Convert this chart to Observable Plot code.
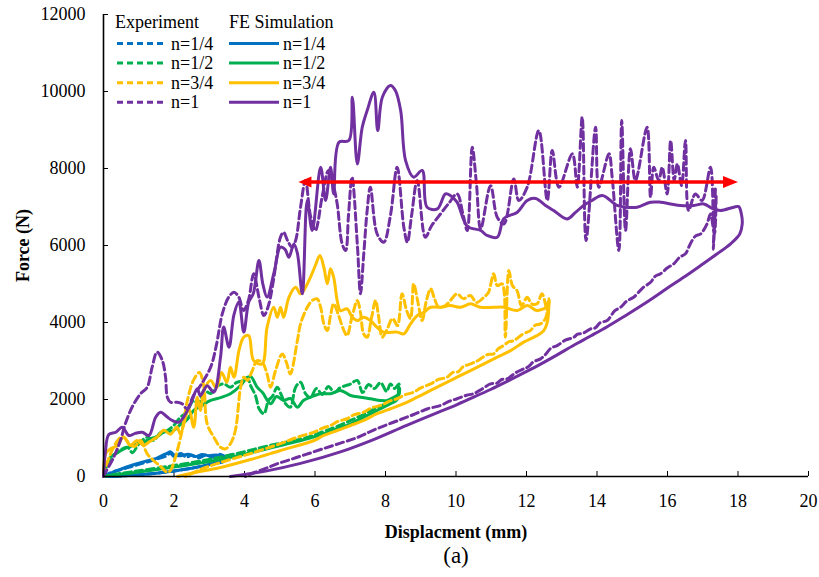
<!DOCTYPE html>
<html><head><meta charset="utf-8">
<script src="https://cdn.jsdelivr.net/npm/d3@7"></script>
<script src="https://cdn.jsdelivr.net/npm/@observablehq/plot@0.6"></script>
<style>
body{margin:0;background:#fff;}
#wrap{position:relative;width:819px;height:577px;}
#legend{position:absolute;left:0;top:0;}
#wrap svg, #wrap text{font-family:'Liberation Serif','Times New Roman',Times,serif !important;}
</style></head><body><div id="wrap"></div>
<script>
// ---------- axis ticks ----------
const xTicks = [0, 2, 4, 6, 8, 10, 12, 14, 16, 18, 20];
const yTicks = [0, 2000, 4000, 6000, 8000, 10000, 12000];

// ---------- series: [displacement (mm), force (N)] ----------
const blueExp = [[0,0],[0.2,100],[0.5,180],[0.8,260],[1.1,340],[1.4,420],[1.6,480],[1.75,520],[1.9,600],[2.0,520],[2.2,600],[2.35,500],[2.5,560],[2.7,480],[2.9,560],[3.1,500],[3.3,580],[3.5,500],[3.6,560],
  [3.5,420],[3.1,330],[2.7,250],[2.3,185],[1.9,130],[1.5,85],[1.0,45],[0.5,15],[0,0]];
const blueFE = [[0,0],[0.3,120],[0.6,230],[0.9,320],[1.2,400],[1.5,470],[1.7,560],[1.8,600],[1.9,640],[2.0,560],[2.2,540],[2.4,580],[2.6,520],[2.8,570],[3.0,540],[3.2,560],[3.4,520],[3.6,540],
  [3.55,450],[3.2,360],[2.8,270],[2.4,200],[2.0,140],[1.5,85],[1.0,45],[0.5,15],[0,0]];

const greenExp = [[0,0],[0.1,330],[0.28,545],[0.67,760],[0.82,620],[0.99,830],[1.24,1020],[1.42,935],[1.62,1145],[1.81,1195],[1.99,1325],[2.18,1540],[2.35,1660],[2.56,1975],[2.70,1870],[2.85,2235],[3.04,2155],[3.21,2340],[3.41,2405],[3.60,2320],[3.77,2440],[3.98,2495],[4.08,2580],[4.17,2365],[4.31,2105],[4.42,1750],[4.55,1630],[4.68,1975],[4.79,2080],[4.93,2320],[5.05,2105],[5.16,1895],[5.30,1800],[5.45,2320],[5.59,2450],[5.73,2155],[5.87,2050],[6.04,2285],[6.21,2130],[6.38,2340],[6.55,2180],[6.72,2310],[6.89,2365],[7.01,2405],[7.20,2495],[7.35,2180],[7.52,2390],[7.69,2285],[7.86,2440],[8.03,2210],[8.14,2405],[8.26,2285],[8.38,2405],[8.37,2100],
  [8.14,1950],[7.76,1790],[7.38,1610],[7.01,1455],[6.63,1300],[6.25,1170],[5.78,1015],[4.64,790],[3.7,580],[2.75,400],[1.81,260],[0.86,130],[0.2,40],[0,0]];
const greenFE = [[0,0],[0.2,500],[0.4,620],[0.58,720],[0.77,780],[0.96,855],[1.14,890],[1.33,985],[1.53,1040],[1.70,1145],[1.99,1195],[2.18,1350],[2.35,1455],[2.56,1715],[2.75,1820],[3.04,1975],[3.32,2050],[3.60,2150],[3.89,2365],[4.03,2520],[4.17,2600],[4.36,2320],[4.51,2180],[4.74,1890],[4.91,2080],[5.11,1975],[5.30,2025],[5.50,1800],[5.67,1975],[5.87,2060],[6.16,2150],[6.44,2150],[6.72,2235],[7.01,2105],[7.29,2060],[7.57,2020],[7.86,1975],[8.05,1975],[8.24,2060],[8.38,2150],[8.37,2340],[8.33,2000],
  [8.14,1890],[7.76,1715],[7.38,1540],[7.01,1370],[6.63,1240],[6.25,1110],[5.7,960],[4.64,720],[3.7,520],[2.75,350],[1.81,220],[0.86,100],[0.1,20],[0,0]];

const yellowExp = [[0,0],[0.01,70],[0.20,590],[0.40,935],[0.54,1040],[0.71,880],[0.88,780],[1.05,935],[1.24,590],[1.42,415],[1.62,260],[1.81,110],[1.90,155],[2.04,500],[2.23,1195],[2.38,1975],[2.55,2495],[2.72,2700],[2.84,2365],[2.94,1370],[3.13,1020],[3.32,760],[3.46,720],[3.60,850],[3.74,1195],[3.89,2320],[3.98,2580],[4.08,2495],[4.20,2700],[4.36,3010],[4.51,2960],[4.64,2665],[4.74,2320],[4.88,2750],[5.07,3185],[5.19,2960],[5.30,2665],[5.50,3530],[5.59,3965],[5.78,4395],[5.92,4570],[6.06,4615],[6.16,4395],[6.25,3965],[6.35,3790],[6.44,4180],[6.53,4485],[6.67,4180],[6.82,3790],[6.91,3660],[7.04,4105],[7.20,4570],[7.29,4260],[7.38,3705],[7.48,3620],[7.60,4105],[7.72,4570],[7.80,4180],[7.91,3620],[8.03,3790],[8.20,4105],[8.34,3920],[8.47,4745],[8.60,4310],[8.71,4105],[8.80,5005],[8.91,4570],[9.04,4050],[9.16,4570],[9.28,4875],[9.39,4620],[9.51,4395],[9.70,4440],[9.84,4570],[10.03,4745],[10.21,4620],[10.41,4700],[10.58,4520],[10.79,4655],[10.92,4780],[11.07,5265],[11.17,4960],[11.31,5005],[11.40,3620],[11.50,5350],[11.60,4960],[11.73,4830],[11.86,4440],[12.02,4655],[12.14,4490],[12.30,4485],[12.44,4745],[12.59,4310],[12.62,4570],
  [12.54,4105],[12.40,3965],[12.25,3930],[12.11,3790],[11.9,3700],[11.64,3530],[11.5,3500],[11.35,3400],[11.2,3320],[11.07,3185],[10.9,3170],[10.75,3090],[10.6,3000],[10.41,2925],[10.2,2850],[10.07,2725],[9.9,2700],[9.75,2580],[9.5,2520],[9.28,2405],[9.0,2300],[8.80,2190],[8.55,2120],[8.33,2020],[8.1,1950],[7.86,1845],[7.6,1780],[7.38,1670],[7.1,1600],[6.91,1500],[6.65,1430],[6.44,1325],[6.2,1250],[5.97,1150],[5.50,1020],[5.02,855],[4.17,595],[3.32,365],[2.75,180],[2.33,0]];
const yellowFE = [[0,0],[0.06,590],[0.2,720],[0.39,805],[0.57,1025],[0.76,805],[0.95,935],[1.14,805],[1.3,900],[1.52,1025],[1.71,1200],[1.9,1100],[2.08,1285],[2.18,1110],[2.42,1760],[2.56,1280],[2.66,2060],[2.75,1715],[2.85,2230],[3.04,2495],[3.2,2300],[3.35,2700],[3.5,2450],[3.6,2840],[3.70,2580],[3.85,3300],[3.98,3620],[4.12,3660],[4.26,3010],[4.50,2925],[4.64,3875],[4.83,4395],[4.93,4135],[5.02,4395],[5.11,4135],[5.26,4655],[5.45,4915],[5.59,4745],[5.68,4830],[5.87,5175],[6.01,5480],[6.14,5740],[6.25,5435],[6.35,5005],[6.44,5395],[6.53,5175],[6.63,4570],[6.72,4310],[6.91,4355],[7.06,4135],[7.20,4050],[7.38,4135],[7.57,4050],[7.76,3875],[7.95,3750],[8.33,3750],[8.52,3705],[8.71,3965],[8.90,4180],[9.09,4265],[9.28,4395],[9.56,4395],[9.84,4440],[10.13,4395],[10.41,4485],[10.70,4395],[11.07,4395],[11.36,4395],[11.73,4310],[12.02,4440],[12.30,4310],[12.49,4355],[12.63,4440],[12.64,4620],[12.62,4200],
  [12.59,4005],[12.49,3790],[12.30,3660],[11.92,3490],[11.55,3270],[11.17,3100],[10.79,2925],[10.41,2750],[10.03,2580],[9.65,2405],[9.28,2235],[8.90,2060],[8.52,1890],[8.14,1760],[7.76,1630],[7.38,1455],[7.01,1325],[6.63,1195],[6.25,1065],[5.97,935],[5.02,675],[4.17,440],[3.32,235],[2.47,80],[2.10,0]];

const purpleExp = [[0,0],[0.01,25],[0.29,500],[0.48,935],[0.62,1370],[0.81,1800],[1.05,2150],[1.24,2320],[1.38,2840],[1.52,3230],[1.67,3010],[1.76,2580],[1.81,2060],[1.90,1930],[2.09,1930],[2.23,1890],[2.37,1760],[2.55,2100],[2.75,2360],[3.04,2840],[3.2,3400],[3.37,4225],[3.55,4655],[3.70,4785],[3.84,4655],[3.97,4310],[4.11,4570],[4.26,5265],[4.41,4655],[4.55,4180],[4.68,4440],[4.82,5090],[5.02,6215],[5.11,6345],[5.22,6130],[5.35,5955],[5.45,6130],[5.59,6995],[5.73,7690],[5.87,6780],[6.01,6390],[6.21,7300],[6.38,7950],[6.52,7560],[6.63,7080],[6.77,6045],[6.87,5870],[6.95,6780],[7.05,7775],[7.20,6045],[7.29,4745],[7.38,5740],[7.48,6910],[7.57,7515],[7.76,6305],[7.95,6085],[8.14,6780],[8.33,8030],[8.52,6475],[8.62,6085],[8.74,6780],[8.90,7690],[9.13,6215],[9.3,6500],[9.56,6820],[9.8,7100],[10.03,7340],[10.2,6800],[10.32,6390],[10.46,8550],[10.58,7600],[10.70,6430],[10.98,7555],[11.17,6735],[11.36,6560],[11.64,7730],[11.78,7170],[12.02,7515],[12.35,8985],[12.59,7170],[12.73,8465],[12.92,7515],[13.30,8380],[13.44,7515],[13.58,9330],[13.69,6130],[13.96,9070],[14.05,7515],[14.34,8380],[14.43,7775],[14.62,5870],[14.70,9245],[14.81,6390],[14.95,8510],[15.09,7690],[15.42,9070],[15.52,7255],[15.61,8030],[15.75,7690],[15.85,8030],[15.99,7340],[16.09,8725],[16.19,7690],[16.28,8120],[16.40,7560],[16.51,8725],[16.60,6910],[16.79,7340],[16.98,7170],[17.22,8030],[17.31,6475],[17.36,7515],[17.30,5900],[17.38,7300],[17.33,6300],
  [17.22,6820],[17.12,6560],[16.94,6300],[16.80,6250],[16.70,6130],[16.60,5950],[16.51,5785],[16.35,5700],[16.18,5525],[16.0,5420],[15.80,5265],[15.65,5200],[15.52,5045],[15.30,4900],[15.04,4655],[14.85,4560],[14.67,4395],[14.5,4300],[14.29,4050],[14.1,4000],[13.95,3860],[13.82,3835],[13.6,3720],[13.45,3700],[13.34,3615],[13.1,3540],[12.87,3400],[12.7,3340],[12.55,3180],[12.40,3055],[12.2,2980],[12.05,2850],[11.92,2795],[11.7,2700],[11.45,2535],[11.3,2520],[11.15,2420],[10.98,2405],[10.75,2280],[10.50,2150],[10.3,2110],[10.03,2020],[9.8,1950],[9.56,1845],[9.2,1760],[8.8,1610],[8.43,1480],[8.0,1330],[7.6,1180],[7.21,1015],[6.7,860],[6.16,700],[5.7,560],[5.30,440],[4.9,320],[4.60,210],[4.3,110],[4.03,0]];
const purpleFE = [[0,0],[0.05,600],[0.15,1090],[0.35,1150],[0.53,1280],[0.72,1065],[0.9,1120],[1.1,1150],[1.29,1065],[1.48,1540],[1.62,1670],[1.8,1550],[1.95,1455],[2.14,1410],[2.33,1630],[2.5,1950],[2.66,2280],[2.75,2100],[2.94,2360],[3.13,2190],[3.32,3100],[3.41,3880],[3.56,3360],[3.7,4200],[3.84,4530],[3.98,3750],[4.12,4530],[4.25,4750],[4.41,5610],[4.52,5000],[4.64,4660],[4.85,5350],[5.02,5955],[5.15,5900],[5.26,5695],[5.40,6040],[5.5,5800],[5.64,4745],[5.78,7170],[5.92,6390],[6.16,8030],[6.30,7170],[6.44,8030],[6.53,7340],[6.68,8680],[6.96,8725],[7.06,9850],[7.20,8120],[7.34,9070],[7.48,9505],[7.67,9980],[7.78,8985],[7.91,9850],[8.14,10155],[8.28,10025],[8.43,9505],[8.57,8205],[8.80,7775],[9.04,7950],[9.18,6995],[9.47,6950],[9.70,7340],[9.84,7300],[10.03,7125],[10.32,6500],[10.70,6390],[10.88,6260],[11.17,6215],[11.36,6700],[11.74,6865],[12.02,7170],[12.26,7220],[12.54,7040],[12.77,6910],[13.15,6690],[13.39,6860],[13.62,7040],[13.86,7170],[14.15,7300],[14.57,7040],[14.81,6995],[15.14,6995],[15.52,7125],[15.80,7125],[16.09,7080],[16.37,7040],[16.75,7040],[17.03,7080],[17.28,6960],[17.50,6910],[17.88,6995],[18.02,7010],[18.1,6800],[18.12,6560],
  [18.05,6300],[17.79,6045],[17.41,5785],[16.94,5480],[16.46,5175],[15.99,4890],[15.61,4650],[15.23,4420],[14.76,4150],[14.29,3890],[13.82,3650],[13.34,3410],[12.87,3160],[12.40,2920],[11.92,2690],[11.45,2470],[10.98,2260],[10.50,2060],[10.03,1870],[9.56,1690],[8.60,1330],[7.66,960],[6.72,640],[5.59,340],[4.60,140],[3.60,0]];

// ---------- red double arrow (plateau force) ----------
const arrowSpan = [5.53, 18.0];
const arrowForce = 7650;

// ---------- legend / series table ----------
const groups = ["Experiment", "FE Simulation"];
const nLabels = ["n=1/4", "n=1/2", "n=3/4", "n=1"];
const colors = ["#0070C0", "#00B050", "#FFC000", "#7030A0"];
const expSeries = [blueExp, greenExp, yellowExp, purpleExp];
const feSeries = [blueFE, greenFE, yellowFE, purpleFE];

const DASH = "7.5,4";
const SW = 3;
const FONT = "'Liberation Serif', 'Times New Roman', Times, serif";

const lineMarks = [];
nLabels.forEach((n, i) => {
  lineMarks.push(Plot.line(expSeries[i], {x: d => d[0], y: d => d[1], stroke: colors[i], strokeWidth: SW, strokeDasharray: DASH, strokeLinejoin: "round", curve: "catmull-rom"}));
  lineMarks.push(Plot.line(feSeries[i], {x: d => d[0], y: d => d[1], stroke: colors[i], strokeWidth: SW, strokeLinejoin: "round", curve: "catmull-rom"}));
});

const headRight = {draw(ctx) { ctx.moveTo(0, 0); ctx.lineTo(-15, -6); ctx.lineTo(-15, 6); ctx.closePath(); }};
const headLeft = {draw(ctx) { ctx.moveTo(0, 0); ctx.lineTo(13, -5.5); ctx.lineTo(13, 5.5); ctx.closePath(); }};

const chart = Plot.plot({
  width: 819,
  height: 577,
  marginLeft: 103,
  marginRight: 11,
  marginTop: 14,
  marginBottom: 101,
  style: {fontFamily: FONT, fontSize: "18px", color: "#000", background: "#fff"},
  x: {domain: [0, 20]},
  y: {domain: [0, 12000]},
  marks: [
    Plot.axisX({ticks: xTicks, tickSize: -5, tickPadding: 23, tickFormat: d3.format("d"), label: null, fontSize: 18, fontFamily: FONT}),
    Plot.axisY({ticks: yTicks, tickSize: -5, tickPadding: 23, tickFormat: d3.format("d"), label: null, fontSize: 18, fontFamily: FONT}),
    ...lineMarks,
    Plot.ruleY([arrowForce], {x1: arrowSpan[0], x2: arrowSpan[1], stroke: "#FF0000", strokeWidth: 3.5, insetLeft: 8, insetRight: 10}),
    Plot.dot([arrowSpan[0]], {x: d => d, y: arrowForce, symbol: headLeft, fill: "#FF0000", stroke: "none"}),
    Plot.dot([arrowSpan[1]], {x: d => d, y: arrowForce, symbol: headRight, fill: "#FF0000", stroke: "none"}),
    Plot.ruleX([0], {stroke: "#000", strokeWidth: 1.6}),
    Plot.ruleY([0], {stroke: "#000", strokeWidth: 1.6}),
    Plot.text(["Force (N)"], {text: d => d, frameAnchor: "left", dx: -80, rotate: -90, fontSize: 18, fontWeight: "bold", textAnchor: "middle", lineAnchor: "middle", fontFamily: FONT}),
    Plot.text(["Displacment (mm)"], {text: d => d, frameAnchor: "bottom", dy: 56, fontSize: 18, fontWeight: "bold", lineAnchor: "middle", fontFamily: FONT}),
    Plot.text(["(a)"], {text: d => d, frameAnchor: "bottom", dy: 79, fontSize: 23, lineAnchor: "middle", fontFamily: FONT})
  ]
});

const wrap = document.getElementById("wrap");
wrap.appendChild(chart);

// ---------- legend overlay ----------
const leg = d3.select(wrap).append("svg").attr("id", "legend")
  .attr("width", 819).attr("height", 577)
  .style("font-family", FONT).style("font-size", "18px").style("pointer-events", "none");
const colX = [[117, 167, 171], [229, 279, 283]];
leg.append("text").attr("x", 115).attr("y", 28).text(groups[0]);
leg.append("text").attr("x", 229).attr("y", 28).text(groups[1]);
nLabels.forEach((n, i) => {
  const yy = 43.5 + 19.6 * i;
  colX.forEach(([a, b, t], g) => {
    leg.append("line").attr("x1", a).attr("x2", b).attr("y1", yy).attr("y2", yy)
      .attr("stroke", colors[i]).attr("stroke-width", SW)
      .attr("stroke-dasharray", g === 0 ? "6,4" : null);
    leg.append("text").attr("x", t).attr("y", yy + 6).text(n);
  });
});
</script></body></html>
